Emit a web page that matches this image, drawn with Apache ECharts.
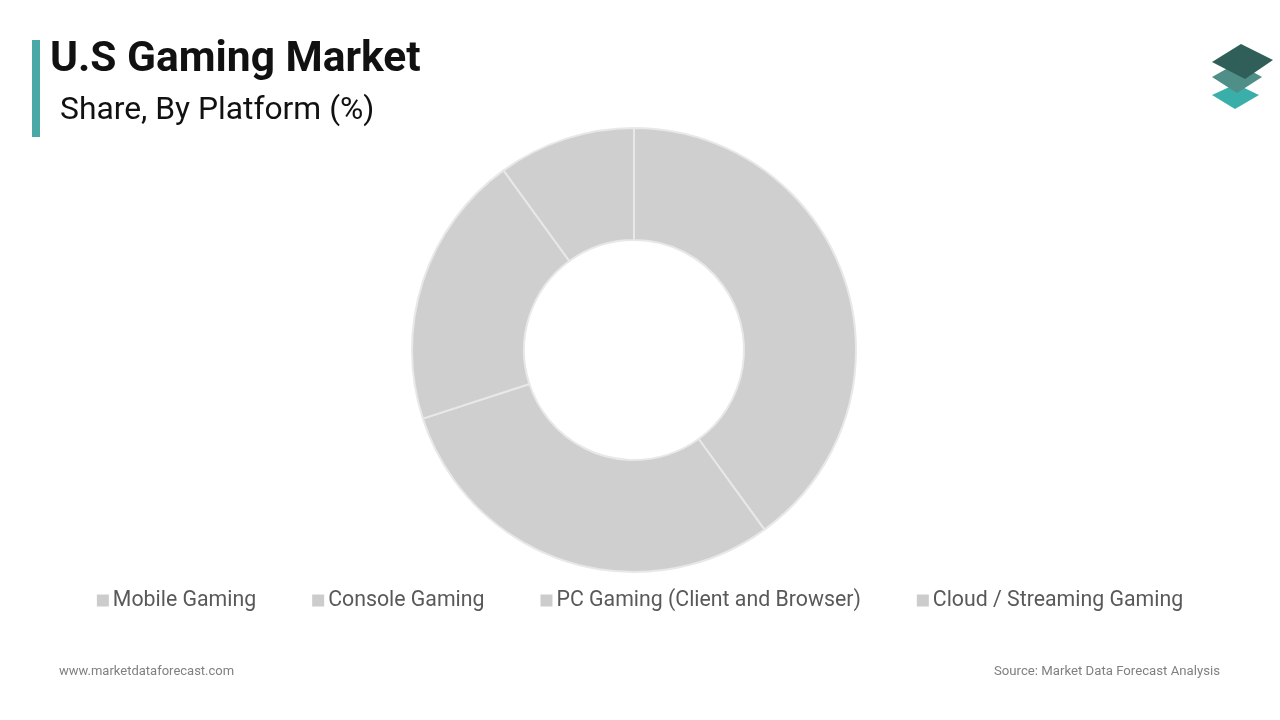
<!DOCTYPE html>
<html>
<head>
<meta charset="utf-8">
<script src="https://cdn.jsdelivr.net/npm/echarts@6/dist/echarts.min.js"></script>
<style>
html,body{margin:0;padding:0;background:#fff;}
#chart{width:1280px;height:720px;}
</style>
</head>
<body>
<div id="chart"></div>
<script>
const categories = ['Mobile Gaming', 'Console Gaming', 'PC Gaming (Client and Browser)', 'Cloud / Streaming Gaming'];
const shares = [40, 30, 20, 10];

const chart = echarts.init(document.getElementById('chart'), null, {renderer: 'canvas'});
const font = 'Roboto, "Liberation Sans", sans-serif';

chart.setOption({
  backgroundColor: '#ffffff',
  animation: false,
  color: ['#d0cfd0'],
  title: [
    {text: 'U.S Gaming Market', left: 50, top: 39, padding: 0, textStyle: {fontFamily: font, fontSize: 42.5, fontWeight: 'bold', color: '#111111'}},
    {text: 'Share, By Platform (%)', left: 60, top: 95, padding: 0, textStyle: {fontFamily: font, fontSize: 31.8, fontWeight: 'normal', color: '#111111'}},
    {text: 'www.marketdataforecast.com', left: 59, top: 665, padding: 0, textStyle: {fontFamily: font, fontSize: 13, fontWeight: 'normal', color: '#808080'}},
    {text: 'Source: Market Data Forecast Analysis', right: 60, top: 665, padding: 0, textStyle: {fontFamily: font, fontSize: 13.2, fontWeight: 'normal', color: '#808080'}}
  ],
  legend: {
    data: categories,
    left: 'center',
    top: 585,
    itemWidth: 12,
    itemHeight: 12,
    itemGap: 56,
    icon: 'rect',
    selectedMode: false,
    textStyle: {fontFamily: font, fontSize: 21.3, color: '#595959', padding: [0, 0, 0, -1]},
    itemStyle: {color: '#cccccc', borderWidth: 0}
  },
  graphic: [
    {type: 'rect', shape: {x: 32, y: 40, width: 8, height: 97}, style: {fill: '#4aa8a6'}},
    {type: 'polygon', shape: {points: [[1212, 95], [1236, 84], [1259, 95], [1235, 109]]}, style: {fill: '#3aafa9'}},
    {type: 'polygon', shape: {points: [[1212, 77], [1237, 63], [1262, 77], [1237, 93]]}, style: {fill: '#4f8f87'}},
    {type: 'polygon', shape: {points: [[1212, 62], [1241, 44], [1273, 60], [1245, 79]]}, style: {fill: '#2f5f58'}}
  ],
  series: [{
    type: 'pie',
    center: [634, 350],
    radius: [110, 222],
    startAngle: 90,
    clockwise: true,
    silent: true,
    label: {show: false},
    labelLine: {show: false},
    itemStyle: {color: '#d0cfd0', borderColor: '#e8e8e8', borderWidth: 2},
    data: categories.map((c, i) => ({name: c, value: shares[i]}))
  }]
});
</script>
</body>
</html>
